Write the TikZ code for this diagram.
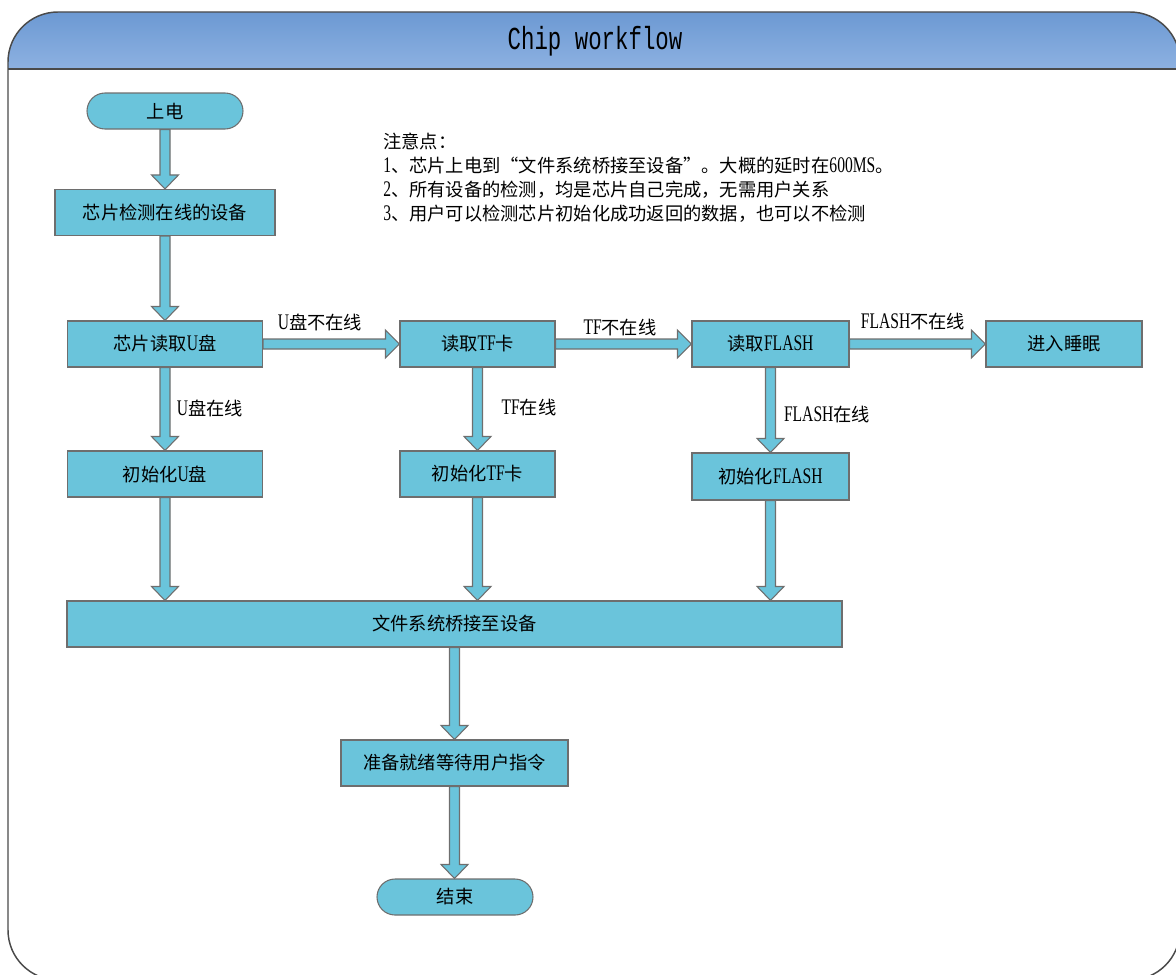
\documentclass[tikz,border=0pt]{standalone}
\usepackage{fontspec}
\setmainfont{Noto Sans CJK SC}
\newfontfamily\lat[FakeStretch=0.7, Scale=1.22]{Liberation Serif}
\newfontfamily\ttl[FakeStretch=0.7]{Liberation Mono}
\usetikzlibrary{calc}
\definecolor{boxfill}{HTML}{6AC4DB}
\definecolor{boxline}{HTML}{6E6E6E}
\definecolor{bartop}{HTML}{6C99D3}
\definecolor{barbot}{HTML}{8DB1E1}
\definecolor{frameline}{HTML}{4A4A4A}
\tikzset{
  box/.style={draw=boxline, fill=boxfill, line width=0.8pt, minimum height=34.5pt, inner sep=0pt, font=\fontsize{13.7}{18}\selectfont},
  term/.style={box, rounded corners=13.5pt, minimum height=27pt, minimum width=117pt},
  lbl/.style={inner sep=0pt, font=\fontsize{13.7}{18}\selectfont},
  fatarrow/.style={draw=boxline, fill=boxfill, line width=0.8pt, line join=miter},
}
% block arrows, pixel offsets (y points down)
\newcommand\fatdown[2]{\draw[fatarrow] ($(#1)+(-5,0)$) -- ($(#2)+(-5,-14)$) -- ($(#2)+(-13.5,-14)$) -- (#2) -- ($(#2)+(13.5,-14)$) -- ($(#2)+(5,-14)$) -- ($(#1)+(5,0)$) -- cycle;}
\newcommand\fatright[2]{\draw[fatarrow] ($(#1)+(0,-5)$) -- ($(#2)+(-14,-5)$) -- ($(#2)+(-14,-14)$) -- (#2) -- ($(#2)+(-14,14)$) -- ($(#2)+(-14,5)$) -- ($(#1)+(0,5)$) -- cycle;}
\begin{document}
\begin{tikzpicture}[x=0.75pt,y=-0.75pt]
\useasboundingbox (0,0) rectangle (1176,974);
% frame and title bar
\shade[top color=bartop, bottom color=barbot] (8,69) [rounded corners=37.5pt] -- (8,12) -- (1180,12) [sharp corners] -- (1180,69) -- cycle;
\draw[frameline, line width=1.1pt, rounded corners=37.5pt] (8,12) rectangle (1180,980);
\draw[frameline, line width=1.1pt] (8,69) -- (1180,69);
\node[inner sep=0pt, font=\fontsize{24}{28}\selectfont] (title) at (595,41){\ttl Chip workflow};
% note
\node[lbl, anchor=north west, align=left] (note) at (383,133){注意点：\\
{\lat 1}、芯片上电到“文件系统桥接至设备”。大概的延时在{\lat 600MS}。\\
{\lat 2}、所有设备的检测，均是芯片自己完成，无需用户关系\\
{\lat 3}、用户可以检测芯片初始化成功返回的数据，也可以不检测};
% steps
\node[term] (box0) at (165,111){上电};
\node[box, minimum width=165pt] (box1) at (165,212.5){芯片检测在线的设备};
\node[box, minimum width=146.25pt] (box2) at (165,344){芯片读取{\lat U}盘};
\node[box, minimum width=116.25pt] (box3) at (477.5,344){读取{\lat TF}卡};
\node[box, minimum width=117.75pt] (box4) at (770.5,344){读取{\lat FLASH}};
\node[box, minimum width=117pt] (box5) at (1064,344){进入睡眠};
\node[box, minimum width=146.25pt] (box6) at (165,474){初始化{\lat U}盘};
\node[box, minimum width=116.25pt] (box7) at (477.5,474){初始化{\lat TF}卡};
\node[box, minimum width=117.75pt, minimum height=35.25pt] (box8) at (770.5,476.5){初始化{\lat FLASH}};
\node[box, minimum width=581.25pt] (box9) at (454.5,624){文件系统桥接至设备};
\node[box, minimum width=170.25pt] (box10) at (454.5,763){准备就绪等待用户指令};
\node[term] (box11) at (455,897){结束};
% connectors
\fatdown{box0.south}{box0.south |- box1.north}
\fatdown{box1.south}{box1.south |- box2.north}
\fatright{box2.east}{box3.west}
\fatright{box3.east}{box4.west}
\fatright{box4.east}{box5.west}
\fatdown{box2.south}{box6.north}
\fatdown{box3.south}{box7.north}
\fatdown{box4.south}{box8.north}
\coordinate (in0) at (box6.south |- box9.north);
\coordinate (in1) at (box7.south |- box9.north);
\coordinate (in2) at (box8.south |- box9.north);
\fatdown{box6.south}{in0}
\fatdown{box7.south}{in1}
\fatdown{box8.south}{in2}
\fatdown{box9.south}{box9.south |- box10.north}
\fatdown{box10.south}{box10.south |- box11.north}
% connector labels
\node[lbl] (lb0) at (320,322){{\lat U}盘不在线};
\node[lbl] (lb1) at (620,328){{\lat TF}不在线};
\node[lbl] (lb2) at (913,322){{\lat FLASH}不在线};
\node[lbl] (lb3) at (210,408){{\lat U}盘在线};
\node[lbl] (lb4) at (529,408){{\lat TF}在线};
\node[lbl] (lb5) at (827,415){{\lat FLASH}在线};
\end{tikzpicture}
\end{document}
